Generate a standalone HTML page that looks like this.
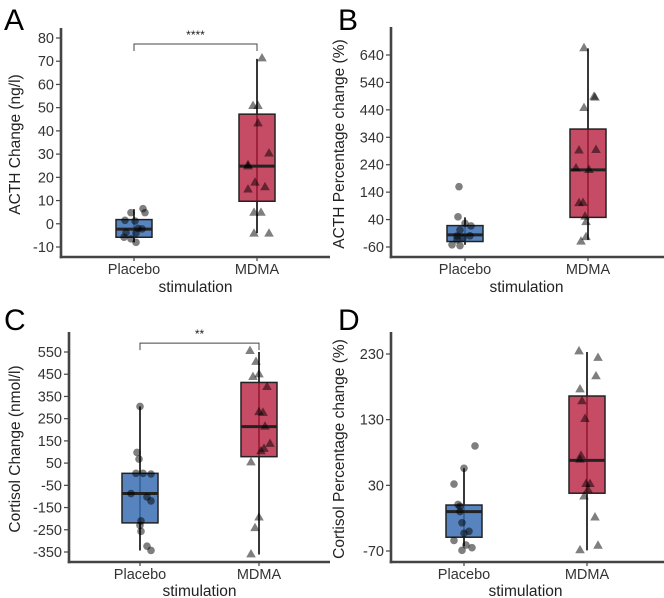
<!DOCTYPE html>
<html><head><meta charset="utf-8"><style>
body{margin:0;background:#fff}
svg{display:block;font-family:"Liberation Sans",Arial,sans-serif}
</style></head><body>
<svg id="c" width="664" height="598" viewBox="0 0 664 598"></svg>
<script>
// ---- data ----
const categories=["Placebo","MDMA"];
const aTicks=[-10,0,10,20,30,40,50,60,70,80];
const aBoxPlacebo=[-8,-5.8,-2.3,1.8,6.3];
const aBoxMDMA=[-4,9.7,24.8,47.2,71];
const aPtsPlacebo=[6.5,4.8,4.8,1.5,1.2,-2,-2.2,-3.8,-4,-5.8,-6.5,-8];
const aJitPlacebo=[9,11,-3,-9,1,4,8,-8,2,-10,-3,2];
const aPtsMDMA=[71.5,51,51,43.5,30.5,25.5,25,18,16,15,5,5,-4,-4];
const aJitMDMA=[5,-4,1,1,12,-9,-9,-2,8,-9,-3,4,-3,12];
const bTicks=[-60,40,140,240,340,440,540,640];
const bBoxPlacebo=[-52,-40,-16,18,48];
const bBoxMDMA=[-34,48,221,370,664];
const bPtsPlacebo=[160,50,26,17,2,-19,-20,-52,-55,-34,-27];
const bJitPlacebo=[-6,-7,0,6,-5,5,-8,-13,-5,-8,-2];
const bPtsMDMA=[667,490,487,449,294,296,229,223,102,103,53,33,-22,-38];
const bJitMDMA=[-4,6,7,-4,-9,8,-12,1,-9,-5,-3,-2,-2,-7];
const cTicks=[-350,-250,-150,-50,50,150,250,350,450,550];
const cBoxPlacebo=[-343,-219,-87,4,305];
const cBoxMDMA=[-361,79,214,413,550];
const cPtsPlacebo=[305,98,68,4,4,1,-87,-102,-120,-210,-230,-257,-324,-343];
const cJitPlacebo=[0,-3,-1,-4,3,11,-9,7,11,1,0,1,7,11];
const cPtsMDMA=[557,508,452,440,395,282,279,217,139,117,106,56,-192,-240,-358];
const cJitMDMA=[-9,-3,0,-6,8,0,4,6,11,5,2,-8,0,-4,-8];
const dTicks=[-70,30,130,230];
const dBoxPlacebo=[-63,-49,-10,0,56];
const dBoxMDMA=[-69,18,68,166,233];
const dPtsPlacebo=[90,56,32,1,-2,-10,-27,-43,-40,-54,-61,-65,-69];
const dJitPlacebo=[11,0,-10,-6,-4,-4,-2,0,5,-10,2,8,-2];
const dPtsMDMA=[235,225,197,177,159,132,76,70,33,33,24,14,-18,-61,-68];
const dJitMDMA=[-8,11,9,-7,-5,-2,-6,-7,3,-1,1,-3,8,11,-7];

const svg=document.getElementById('c');
const NS='http://www.w3.org/2000/svg';
function mk(tag,attrs,parent,text){const e=document.createElementNS(NS,tag);for(const k in attrs)e.setAttribute(k,attrs[k]);if(text!==undefined)e.textContent=text;(parent||svg).appendChild(e);return e;}

const panels=[
 {id:'a',letter:'A',lx:4,ly:30,ax:61,top:28,bottom:257,right:330,t0v:80,t0y:38,t1v:-10,t1y:247,cx:[134,257],ticks:aTicks,boxes:[aBoxPlacebo,aBoxMDMA],pts:[aPtsPlacebo,aPtsMDMA],jit:[aJitPlacebo,aJitMDMA],title:'ACTH Change (ng/l)',tx:20,xto:35,sig:{v:77.4,label:'****'}},
 {id:'b',letter:'B',lx:338,ly:30,ax:391,top:27,bottom:257,right:664,t0v:640,t0y:55,t1v:-60,t1y:247,cx:[465,588],ticks:bTicks,boxes:[bBoxPlacebo,bBoxMDMA],pts:[bPtsPlacebo,bPtsMDMA],jit:[bJitPlacebo,bJitMDMA],title:'ACTH Percentage change (%)',tx:344,xto:35},
 {id:'c',letter:'C',lx:4,ly:330,ax:69,top:332,bottom:562,right:330,t0v:550,t0y:352,t1v:-350,t1y:552,cx:[140,259],ticks:cTicks,boxes:[cBoxPlacebo,cBoxMDMA],pts:[cPtsPlacebo,cPtsMDMA],jit:[cJitPlacebo,cJitMDMA],title:'Cortisol Change (nmol/l)',tx:20,xto:34,sig:{v:590,label:'**'}},
 {id:'d',letter:'D',lx:338,ly:330,ax:391,top:332,bottom:562,right:664,t0v:230,t0y:354,t1v:-70,t1y:551,cx:[464,587],ticks:dTicks,boxes:[dBoxPlacebo,dBoxMDMA],pts:[dPtsPlacebo,dPtsMDMA],jit:[dJitPlacebo,dJitMDMA],title:'Cortisol Percentage change (%)',tx:344,xto:34}
];
const fills=['rgba(58,110,180,0.85)','rgba(184,30,62,0.8)'];

panels.forEach(p=>{
 const y=v=>p.t0y+(p.t0v-v)*(p.t1y-p.t0y)/(p.t0v-p.t1v);
 const g=mk('g',{});
 
 
 const L=mk('text',{x:p.lx,y:p.ly,'font-size':30,fill:'#000'},g,p.letter);
 
 const ya=mk('line',{x1:p.ax,y1:p.top,x2:p.ax,y2:p.bottom+1.3,stroke:'#444','stroke-width':2.6},g);
 
 const xa=mk('line',{x1:p.ax-1.3,y1:p.bottom,x2:p.right,y2:p.bottom,stroke:'#444','stroke-width':2.6},g);
 
 p.ticks.forEach(t=>{
  mk('line',{x1:p.ax-5,x2:p.ax,y1:y(t),y2:y(t),stroke:'#444','stroke-width':1.2},g);
  const tl=mk('text',{x:p.ax-7,y:y(t)+5,'font-size':14.5,'text-anchor':'end',fill:'#333'},g,String(t));
  
 });
 categories.forEach((c,i)=>{
  const cx=p.cx[i];
  mk('line',{x1:cx,x2:cx,y1:p.bottom,y2:p.bottom+4,stroke:'#444','stroke-width':1.2},g);
  const xl=mk('text',{x:cx,y:p.bottom+17,'font-size':14.5,'text-anchor':'middle',fill:'#333'},g,c);
  
  const b=p.boxes[i];
  const w=mk('line',{x1:cx,x2:cx,y1:y(b[0]),y2:y(b[4]),stroke:'#222','stroke-width':1.8},g);
  
  const r=mk('rect',{x:cx-18,y:y(b[3]),width:36,height:y(b[1])-y(b[3]),fill:fills[i],stroke:'#222','stroke-width':1.5},g);
  
  const m=mk('line',{x1:cx-18,x2:cx+18,y1:y(b[2]),y2:y(b[2]),stroke:'#222','stroke-width':3},g);
  
  p.pts[i].forEach((v,k)=>{
   const px=cx+p.jit[i][k],py=y(v);
   let e;
   if(i===0){e=mk('circle',{cx:px,cy:py,r:3.8,fill:'rgba(0,0,0,0.5)'},g);}
   else{e=mk('polygon',{points:`${px},${py-4.8} ${px-4.8},${py+3.6} ${px+4.8},${py+3.6}`,fill:'rgba(0,0,0,0.5)'},g);}
   
  });
 });
 const xt=mk('text',{x:(p.cx[0]+p.cx[1])/2,y:p.bottom+p.xto,'font-size':15.5,'text-anchor':'middle',fill:'#222'},g,'stimulation');
 
 const ymid=(p.top+p.bottom)/2+2;
 const yt=mk('text',{x:p.tx,y:ymid,'font-size':15.5,'text-anchor':'middle',fill:'#222',transform:`rotate(-90 ${p.tx} ${ymid})`},g,p.title);
 
 if(p.sig){
  const sy=y(p.sig.v);
  const br=mk('path',{d:`M${p.cx[0]},${sy+7} V${sy} H${p.cx[1]} V${sy+7}`,fill:'none',stroke:'#444','stroke-width':1},g);
  
  const st=mk('text',{x:(p.cx[0]+p.cx[1])/2,y:sy-5,'font-size':12,'text-anchor':'middle',fill:'#222'},g,p.sig.label);
  
 }
});
</script>
</body></html>
